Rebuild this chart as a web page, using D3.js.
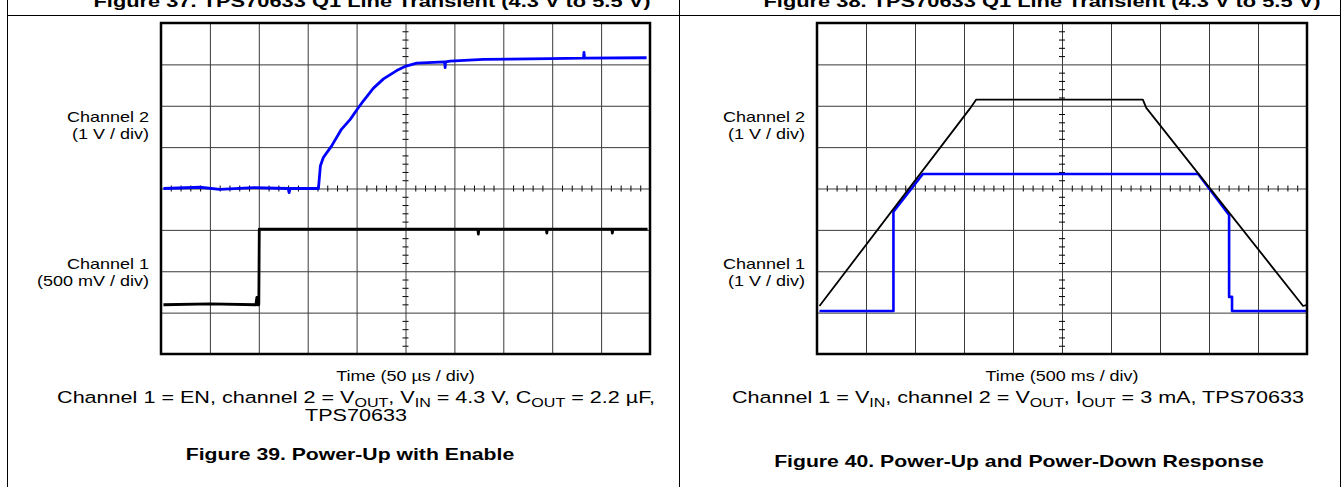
<!DOCTYPE html>
<html>
<head>
<meta charset="utf-8">
<script src="https://cdn.jsdelivr.net/npm/d3@7"></script>
<style>
  html, body { margin: 0; padding: 0; background: #fff; }
  svg { display: block; font-family: "Liberation Sans", Arial, sans-serif; }
</style>
</head>
<body>
<svg id="chart" width="1341" height="487"></svg>
<script>
// ---------------- DATA ----------------
// Figure 39: time in µs (50 µs/div), traces in screen divisions from centre line
const fig39Ch2Time = [2.5, 40, 60, 95, 130, 131, 132, 161, 163, 166, 174.5, 184.5, 193.5, 200.5, 207, 217, 227.5, 241, 250.5, 261.5, 290, 290.5, 291, 295.5, 329.5, 397.5, 432, 432.5, 433, 496.5];
const fig39Ch2Div  = [0, 0.03, -0.02, 0.02, 0, -0.1, 0, 0, 0.55, 0.75, 1.03, 1.43, 1.67, 1.91, 2.12, 2.42, 2.65, 2.85, 2.96, 3.03, 3.06, 2.92, 3.06, 3.08, 3.12, 3.14, 3.15, 3.29, 3.15, 3.16];
const fig39Ch1Time = [2.5, 50, 97, 98, 99, 100, 100.5, 200, 324, 324.5, 325, 394, 394.5, 395, 461, 461.5, 462, 497.5];
const fig39Ch1Div  = [-2.81, -2.79, -2.81, -2.63, -2.81, -2.81, -0.98, -0.98, -0.98, -1.1, -0.98, -0.98, -1.08, -0.98, -0.98, -1.08, -0.98, -0.98];

// Figure 40: time in ms (500 ms/div)
const fig40Ch1Time = [25, 1560, 1625, 3325, 3360, 4960, 4990];
const fig40Ch1Div  = [-2.84, 1.93, 2.15, 2.15, 1.95, -2.84, -2.82];
const fig40Ch2Time = [25, 780, 780, 1080, 3890, 4205, 4205, 4235, 4235, 4995];
const fig40Ch2Div  = [-2.96, -2.96, -0.56, 0.35, 0.35, -0.64, -2.62, -2.62, -2.96, -2.96];

const titles = ["Figure 37. TPS70633 Q1 Line Transient (4.3 V to 5.5 V)", "Figure 38. TPS70633 Q1 Line Transient (4.3 V to 5.5 V)"];
const xLabels = ["Time (50 \u00B5s / div)", "Time (500 ms / div)"];
const ch2Labels = [["Channel 2", "(1 V / div)"], ["Channel 2", "(1 V / div)"]];
const ch1Labels = [["Channel 1", "(500 mV / div)"], ["Channel 1", "(1 V / div)"]];
const figCaptions = ["Figure 39. Power-Up with Enable", "Figure 40. Power-Up and Power-Down Response"];

// ---------------- DRAW ----------------
const svg = d3.select("#chart");
const SX = 1.285; // page is stretched horizontally

function txt(x, y, size, anchor, bold) {
  return svg.append("text")
    .attr("transform", `translate(${x},${y}) scale(${SX},1)`)
    .attr("text-anchor", anchor).attr("font-size", size)
    .attr("font-weight", bold ? "bold" : "normal");
}

// table frame
[7.5, 679.5, 1340.5].forEach(xx =>
  svg.append("line").attr("x1", xx).attr("x2", xx).attr("y1", 0).attr("y2", 487).attr("stroke", "#000").attr("stroke-width", 1));
svg.append("line").attr("x1", 7).attr("x2", 1341).attr("y1", 15.5).attr("y2", 15.5).attr("stroke", "#000").attr("stroke-width", 1);

const panels = [
  { left: 161, right: 650, titleX: 372, capX: 350, tDomain: [0, 500],
    series: [ {t: fig39Ch2Time, v: fig39Ch2Div, color: "#0000ff", w: 2.8},
              {t: fig39Ch1Time, v: fig39Ch1Div, color: "#000", w: 2.8} ] },
  { left: 817, right: 1307, titleX: 1042, capX: 1019, tDomain: [0, 5000],
    series: [ {t: fig40Ch2Time, v: fig40Ch2Div, color: "#0000ff", w: 2.6},
              {t: fig40Ch1Time, v: fig40Ch1Div, color: "#000", w: 1.8} ] }
];
const plotTop = 23, plotBottom = 354;

panels.forEach((p, i) => {
  const x = d3.scaleLinear().domain(p.tDomain).range([p.left, p.right]);
  const y = d3.scaleLinear().domain([-4, 4]).range([plotBottom, plotTop]);
  const g = svg.append("g");
  const W = p.right - p.left, H = plotBottom - plotTop;
  const step = (p.tDomain[1] - p.tDomain[0]) / 10;

  // title (cut at top of page)
  txt(p.titleX, 7, 17, "middle", true).text(titles[i]);

  // grid via axes
  const xGrid = d3.axisBottom(x).tickValues(d3.range(1, 10).map(k => p.tDomain[0] + k * step))
    .tickSize(-H).tickFormat("");
  g.append("g").attr("transform", `translate(0,${plotBottom})`).call(xGrid)
    .call(s => s.select(".domain").remove())
    .selectAll("line").attr("stroke", "#3a3a3a").attr("stroke-width", 1);
  const yGrid = d3.axisLeft(y).tickValues(d3.range(-3, 4)).tickSize(-W).tickFormat("");
  g.append("g").attr("transform", `translate(${p.left},0)`).call(yGrid)
    .call(s => s.select(".domain").remove())
    .selectAll("line").attr("stroke", "#3a3a3a").attr("stroke-width", 1);

  // minor ticks on centre crosshair
  const minorX = d3.range(1, 50).filter(k => k % 5 !== 0).map(k => p.tDomain[0] + k * step / 5);
  const minorY = d3.range(-19, 20).filter(k => k % 5 !== 0).map(k => k / 5);
  [d3.axisBottom, d3.axisTop].forEach(ax => {
    g.append("g").attr("transform", `translate(0,${y(0)})`)
      .call(ax(x).tickValues(minorX).tickSize(3).tickFormat(""))
      .call(s => s.select(".domain").remove())
      .selectAll("line").attr("stroke", "#000").attr("stroke-width", 1);
  });
  [d3.axisLeft, d3.axisRight].forEach(ax => {
    g.append("g").attr("transform", `translate(${x((p.tDomain[0] + p.tDomain[1]) / 2)},0)`)
      .call(ax(y).tickValues(minorY).tickSize(3).tickFormat(""))
      .call(s => s.select(".domain").remove())
      .selectAll("line").attr("stroke", "#000").attr("stroke-width", 1);
  });

  // traces
  const line = d3.line().x(d => x(d[0])).y(d => y(d[1]));
  p.series.forEach(s => {
    const pts = s.t.map((t, k) => [t, s.v[k]]);
    g.append("path").attr("d", line(pts)).attr("fill", "none")
      .attr("stroke", s.color).attr("stroke-width", s.w).attr("stroke-linejoin", "round");
  });

  // outer box
  g.append("rect").attr("x", p.left).attr("y", plotTop).attr("width", W).attr("height", H)
    .attr("fill", "none").attr("stroke", "#000").attr("stroke-width", 2.5);

  // channel labels
  const lx = p.left - 12;
  [[ch2Labels[i], 122], [ch1Labels[i], 269]].forEach(([lab, yy]) => {
    txt(lx, yy, 14, "end").text(lab[0]);
    txt(lx, yy + 17, 14, "end").text(lab[1]);
  });

  // x label
  txt((p.left + p.right) / 2, 381, 14, "middle").text(xLabels[i]);

  // figure caption
  txt(p.capX, i === 0 ? 460 : 467, 16.5, "middle", true).text(figCaptions[i]);
});

// condition captions with subscripts: [text, subscript]; each text tspan resets baseline
function cond(xc, yy, parts) {
  const t = txt(xc, yy, 16.8, "middle");
  let shifted = false;
  parts.forEach(([s, sub]) => {
    t.append("tspan").attr("dy", shifted ? -3.5 : 0).text(s);
    shifted = false;
    if (sub) {
      t.append("tspan").attr("font-size", 12.5).attr("dy", 3.5).text(sub);
      shifted = true;
    }
  });
}
cond(356, 403, [["Channel 1 = EN, channel 2 = V", "OUT"], [", V", "IN"], [" = 4.3 V, C", "OUT"], [" = 2.2 \u00B5F,", null]]);
txt(356, 421, 16.8, "middle").text("TPS70633");
cond(1018, 403, [["Channel 1 = V", "IN"], [", channel 2 = V", "OUT"], [", I", "OUT"], [" = 3 mA, TPS70633", null]]);
</script>
</body>
</html>
